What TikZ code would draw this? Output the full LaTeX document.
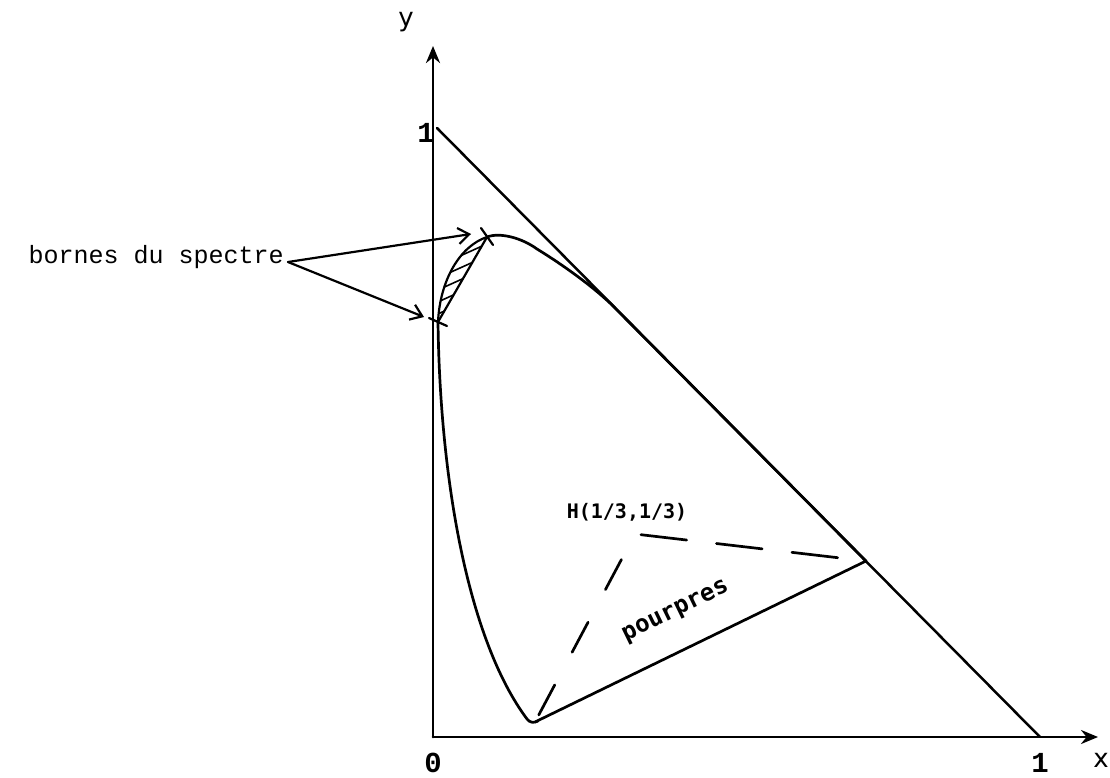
\documentclass[tikz,border=0pt]{standalone}
\usepackage{fontspec}
\newfontfamily\typefont{Liberation Mono}
\newfontfamily\plotfont{DejaVu Sans Mono}
\newfontfamily\axfont{DejaVu Sans}
\usetikzlibrary{arrows.meta}
\begin{document}
\begin{tikzpicture}[x=1pt,y=-1pt,line width=2.7pt,line join=round,line cap=round,
  axis/.style={-{Stealth[length=17pt,width=14pt]}},
  pointer/.style={line width=2.2pt,-{Straight Barb[length=11pt,width=16pt]}},
  dashA/.style={dash pattern=on 34pt off 37pt,dash phase=63pt},
  dashB/.style={dash pattern=on 46pt off 30pt,dash phase=70pt},
  tick/.style={line width=2.2pt},
  lbl/.style={inner sep=0pt},
  axlbl/.style={inner sep=0pt,font=\axfont\fontsize{26}{26}\selectfont},
  numlbl/.style={inner sep=0pt,font=\typefont\bfseries\fontsize{29}{29}\selectfont}]
\useasboundingbox (0,0) rectangle (1110,778);
% key points
\coordinate (O) at (433,737);
\coordinate (Xend) at (1098,737);
\coordinate (Yend) at (433,46);
\coordinate (Y1) at (437,128);
\coordinate (X1) at (1040,737);
\coordinate (A) at (438,322);
\coordinate (B) at (487,237);
\coordinate (T) at (612,305);
\coordinate (Pend) at (866,561);
\coordinate (Pmin) at (535,722);
\coordinate (H) at (635,534);
% axes
\draw[axis] (O) -- (Yend);
\draw[axis] (O) -- (Xend);
\node[axlbl] (ylab) at (406,22) {y};
\node[axlbl] (xlab) at (1101,760) {x};
\node[numlbl] (zero) at (433,763) {0};
\node[numlbl] (onex) at (1040,763) {1};
\node[numlbl] (oney) at (426,133) {1};
% line x+y=1
\draw[line width=2.5pt] (Y1) -- (X1);
% spectral locus
\draw (B) .. controls (500,232) and (522,238) .. (537,249)
      .. controls (555,260) and (588,282) .. (T) -- (Pend);
\draw (A) .. controls (440,480) and (468,640) .. (527,719)
      .. controls (530,723) and (534,723) .. (538,721);
% purple line
\draw (Pmin) -- (Pend);
% hatched region
\draw[line width=2.2pt] (A) .. controls (440,280) and (460,246) .. (B);
\draw[line width=2.2pt] (A) -- (B);
\begin{scope}
\clip (A) .. controls (440,280) and (460,246) .. (B) -- cycle;
\foreach \s in {250,262,...,334}
  \draw[line width=1.6pt] (420,\s) -- (500,\s-36);
\end{scope}
\draw[tick] (429,318) -- (447,326);
\draw[tick] (481,228) -- (493,245);
% labels
\node[lbl,font=\typefont\fontsize{25}{25}\selectfont,anchor=east] (bornes) at (285,257) {bornes du spectre};
\coordinate (bstart) at (288,262);
\draw[pointer] (bstart) -- (471,234);
\draw[pointer] (bstart) -- (424,317);
% dashed lines to white point
\draw[dashA] (Pmin) -- (H);
\draw[dashB] (H) -- (Pend);
\node[lbl,font=\plotfont\bfseries\fontsize{20}{20}\selectfont] (Hlab) at (627,512) {H(1/3,1/3)};
\node[lbl,font=\plotfont\bfseries\fontsize{24}{24}\selectfont,rotate=26] (purp) at (676,612) {pourpres};
\end{tikzpicture}
\end{document}
